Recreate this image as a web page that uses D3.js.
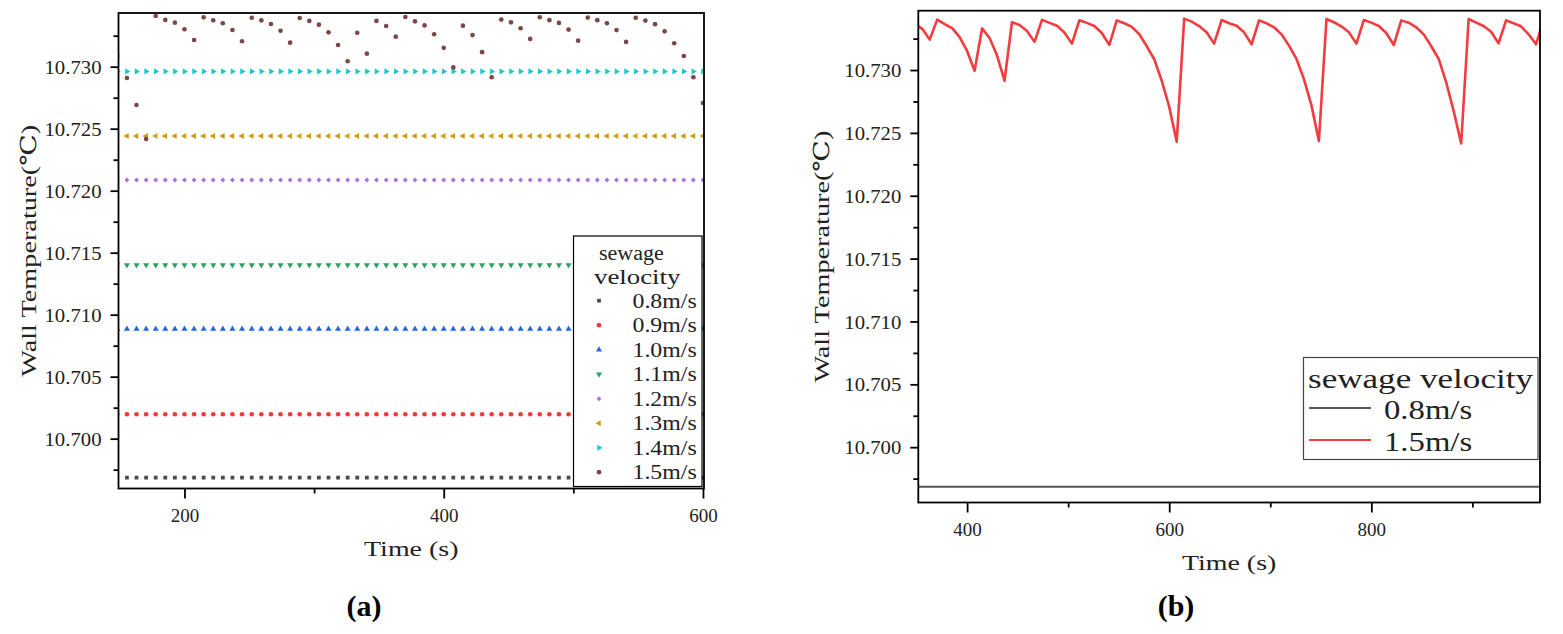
<!DOCTYPE html>
<html lang="en">
<head>
<meta charset="UTF-8">
<title>Wall Temperature vs Time</title>
<script src="https://d3js.org/d3.v7.min.js"></script>
<style>
  body { margin: 0; background: #fff; }
  svg { display: block; font-family: "Liberation Serif", "DejaVu Serif", serif; }
  .domain { display: none; }
</style>
</head>
<body>
<svg id="fig" width="1563" height="634"></svg>
<script>
// sample times (s)
const times = [148.1, 155.6, 163.0, 170.4, 177.8, 185.2, 192.6, 200.0, 207.4, 214.8,
  222.2, 229.6, 237.0, 244.4, 251.9, 259.3, 266.7, 274.1, 281.5, 288.9,
  296.3, 303.7, 311.1, 318.5, 325.9, 333.3, 340.7, 348.1, 355.6, 363.0,
  370.4, 377.8, 385.2, 392.6, 400.0, 407.4, 414.8, 422.2, 429.6, 437.0,
  444.4, 451.9, 459.3, 466.7, 474.1, 481.5, 488.9, 496.3, 503.7, 511.1,
  518.5, 525.9, 533.3, 540.7, 548.1, 555.6, 563.0, 570.4, 577.8, 585.2,
  592.6, 600.0, 607.4, 614.8, 622.2, 629.6, 637.0, 644.4, 651.9, 659.3,
  666.7, 674.1, 681.5, 688.9, 696.3, 703.7, 711.1, 718.5, 725.9, 733.3,
  740.7, 748.1, 755.6, 763.0, 770.4, 777.8, 785.2, 792.6, 800.0, 807.4,
  814.8, 822.2, 829.6, 837.0, 844.4, 851.9, 859.3, 866.7, 874.1, 881.5,
  888.9, 896.3, 903.7, 911.1, 918.5, 925.9, 933.3, 940.7, 948.1, 955.6,
  963.0, 970.4];

// wall temperature at 1.5 m/s
const wall15 = [10.73086, 10.72909, 10.72691, 10.72417, 10.73409, 10.73377, 10.73355, 10.73302, 10.73215, 10.73398,
  10.73374, 10.73350, 10.73296, 10.73205, 10.73395, 10.73374, 10.73344, 10.73290, 10.73194, 10.73393,
  10.73369, 10.73339, 10.73277, 10.73175, 10.73044, 10.73274, 10.73105, 10.73369, 10.73328, 10.73242,
  10.73401, 10.73366, 10.73333, 10.73262, 10.73152, 10.72994, 10.73331, 10.73255, 10.73117, 10.72915,
  10.73380, 10.73358, 10.73310, 10.73224, 10.73399, 10.73375, 10.73353, 10.73299, 10.73210, 10.73396,
  10.73375, 10.73350, 10.73295, 10.73200, 10.73395, 10.73372, 10.73343, 10.73285, 10.73189, 10.73086,
  10.72915, 10.72707, 10.72429, 10.73409, 10.73385, 10.73350, 10.73300, 10.73210, 10.73398, 10.73372,
  10.73353, 10.73300, 10.73205, 10.73395, 10.73372, 10.73340, 10.73284, 10.73194, 10.73088, 10.72928,
  10.72721, 10.72435, 10.73406, 10.73380, 10.73348, 10.73300, 10.73210, 10.73398, 10.73377, 10.73350,
  10.73295, 10.73199, 10.73395, 10.73377, 10.73340, 10.73284, 10.73189, 10.73088, 10.72902, 10.72673,
  10.72416, 10.73406, 10.73377, 10.73350, 10.73305, 10.73213, 10.73395, 10.73372, 10.73348, 10.73284,
  10.73205, 10.73400];

// flat wall temperature for 0.8 .. 1.4 m/s
const flatLevels = [10.69685, 10.70197, 10.70885, 10.71401, 10.72086, 10.72441, 10.72962];

const velocities = ["0.8m/s", "0.9m/s", "1.0m/s", "1.1m/s", "1.2m/s", "1.3m/s", "1.4m/s", "1.5m/s"];
const colors = ["#4a4a4a", "#f0393b", "#2467e0", "#2ca25f", "#a772e0", "#d09a08", "#19c9cf", "#7a4646"];
const shapes = ["square", "circle", "up", "down", "diamond", "left", "right", "circle"];

const yMajor = [10.700, 10.705, 10.710, 10.715, 10.720, 10.725, 10.730];
const yMinor = [10.6975, 10.7025, 10.7075, 10.7125, 10.7175, 10.7225, 10.7275, 10.7325];
const xMajorA = [200, 400, 600], xMinorA = [300, 500];
const xMajorB = [400, 600, 800], xMinorB = [500, 700, 900];

const yTitle = "Wall Temperature(℃)";
const xTitle = "Time (s)";
const legendTitle = "sewage velocity";

const svg = d3.select("#fig");

// emulate the half-width / full-width spacing of the original font
function monoFit(sel, unit) {
  sel.each(function () {
    let n = 0;
    for (const c of this.textContent) n += c.charCodeAt(0) > 0x2000 ? 2 : 1;
    d3.select(this).attr("textLength", n * unit).attr("lengthAdjust", "spacingAndGlyphs");
  });
}

function symbolPath(shape) {
  const sq = d3.symbol().type(d3.symbolSquare).size(14)();
  const ci = d3.symbol().type(d3.symbolCircle).size(17)();
  const tr = d3.symbol().type(d3.symbolTriangle).size(16)();
  const di = d3.symbol().type(d3.symbolSquare).size(12)();
  return {
    square: [sq, 0], circle: [ci, 0], up: [tr, 0], down: [tr, 180],
    diamond: [di, 45], left: [tr, -90], right: [tr, 90]
  }[shape];
}

function drawMarker(g, shape, color, cx, cy) {
  const [d, rot] = symbolPath(shape);
  g.append("path").attr("d", d).attr("fill", color)
    .attr("transform", `translate(${cx},${cy}) rotate(${rot})`);
}

function makePanel(box, xDom, yDom, xMaj, xMin, tag) {
  const x = d3.scaleLinear().domain(xDom).range([box.left, box.right]);
  const y = d3.scaleLinear().domain(yDom).range([box.bottom, box.top]);

  svg.append("clipPath").attr("id", "clip-" + tag).append("rect")
    .attr("x", box.left).attr("y", box.top)
    .attr("width", box.right - box.left).attr("height", box.bottom - box.top);
  const plot = svg.append("g").attr("clip-path", `url(#clip-${tag})`);

  const ax = svg.append("g");
  const gx = ax.append("g").attr("transform", `translate(0,${box.bottom})`)
    .call(d3.axisBottom(x).tickValues(xMaj).tickSize(10).tickFormat(d3.format("d")));
  ax.append("g").attr("transform", `translate(0,${box.bottom})`)
    .call(d3.axisBottom(x).tickValues(xMin).tickSize(5).tickFormat(""));
  const gy = ax.append("g").attr("transform", `translate(${box.left},0)`)
    .call(d3.axisLeft(y).tickValues(yMajor).tickSize(8).tickFormat(d3.format(".3f")));
  ax.append("g").attr("transform", `translate(${box.left},0)`)
    .call(d3.axisLeft(y).tickValues(yMinor).tickSize(5).tickFormat(""));

  ax.selectAll(".tick line").attr("stroke", "#000").attr("stroke-width", 1.8);
  gx.selectAll("text").attr("y", 27).attr("dy", "0.35em")
    .attr("font-family", "Liberation Serif").attr("font-size", 19).attr("fill", "#222")
    .call(monoFit, 9.5);
  gy.selectAll("text").attr("x", -17).attr("dy", "0.35em")
    .attr("font-family", "Liberation Serif").attr("font-size", 19).attr("fill", "#222")
    .call(monoFit, 9.5);

  return { x, y, plot, box };
}

function drawFrame(p) {
  const b = p.box;
  svg.append("rect").attr("x", b.left).attr("y", b.top)
    .attr("width", b.right - b.left).attr("height", b.bottom - b.top)
    .attr("fill", "none").attr("stroke", "#000").attr("stroke-width", 1.8);
}

function titles(p, yx, xy) {
  const b = p.box;
  svg.append("text").attr("transform", `translate(${yx},${(b.top + b.bottom) / 2}) rotate(-90)`)
    .attr("text-anchor", "middle").attr("dy", "0.35em").attr("font-size", 22).attr("fill", "#222")
    .text(yTitle).call(monoFit, 12.6);
  svg.append("text").attr("x", (b.left + b.right) / 2).attr("y", xy)
    .attr("text-anchor", "middle").attr("dy", "0.35em").attr("font-size", 22).attr("fill", "#222")
    .text(xTitle).call(monoFit, 11.8);
}

// ---- panel (a): scatter of all velocities ----
const pa = makePanel({ left: 118.5, right: 704, top: 13, bottom: 488.5 },
  [149.1, 600.8], [10.69598, 10.73433], xMajorA, xMinorA, "a");

flatLevels.forEach((v, i) => {
  times.forEach(t => {
    if (t < 140 || t > 610) return;
    drawMarker(pa.plot, shapes[i], colors[i], pa.x(t), pa.y(v));
  });
});
times.forEach((t, k) => {
  if (t < 140 || t > 610) return;
  drawMarker(pa.plot, shapes[7], colors[7], pa.x(t), pa.y(wall15[k]));
});
drawFrame(pa);
titles(pa, 28, 548);

// legend (a)
const la = svg.append("g");
la.append("rect").attr("x", 573.5).attr("y", 236).attr("width", 128.5).attr("height", 250.5)
  .attr("fill", "#fff").attr("stroke", "#000").attr("stroke-width", 1.2);
la.append("text").attr("x", 599).attr("y", 253).attr("dy", "0.35em").attr("font-size", 20)
  .attr("fill", "#222").text("sewage").call(monoFit, 10.8);
la.append("text").attr("x", 594).attr("y", 277).attr("dy", "0.35em").attr("font-size", 20)
  .attr("fill", "#222").text("velocity").call(monoFit, 10.8);
velocities.forEach((name, i) => {
  const yy = 300.7 + i * 24.5;
  drawMarker(la, shapes[i], colors[i], 599, yy);
  la.append("text").attr("x", 632.5).attr("y", yy).attr("dy", "0.35em").attr("font-size", 20)
    .attr("fill", "#222").text(name).call(monoFit, 10.7);
});

// ---- panel (b): lines for 0.8 and 1.5 m/s ----
const pb = makePanel({ left: 918.3, right: 1540, top: 10.7, bottom: 502.5 },
  [351.7, 966.9], [10.6956, 10.73472], xMajorB, xMinorB, "b");

pb.plot.append("line")
  .attr("x1", pb.x(times[0])).attr("x2", pb.x(times[times.length - 1]))
  .attr("y1", pb.y(flatLevels[0])).attr("y2", pb.y(flatLevels[0]))
  .attr("stroke", "#555").attr("stroke-width", 2);
const line = d3.line().x((d, k) => pb.x(times[k])).y(d => pb.y(d));
pb.plot.append("path").datum(wall15).attr("d", line)
  .attr("fill", "none").attr("stroke", "#f23c40").attr("stroke-width", 2.6)
  .attr("stroke-linejoin", "round");
drawFrame(pb);
titles(pb, 821, 562);

// legend (b)
const lb = svg.append("g");
lb.append("rect").attr("x", 1303.5).attr("y", 357.5).attr("width", 234.5).attr("height", 102)
  .attr("fill", "#fff").attr("stroke", "#444").attr("stroke-width", 1.2);
lb.append("text").attr("x", 1308).attr("y", 378).attr("dy", "0.35em").attr("font-size", 28)
  .attr("fill", "#222").text(legendTitle).call(monoFit, 15);
[[velocities[0], "#555", 409], [velocities[7], "#f23c40", 441]].forEach(([name, c, yy]) => {
  lb.append("line").attr("x1", 1309).attr("x2", 1371).attr("y1", yy - 1).attr("y2", yy - 1)
    .attr("stroke", c).attr("stroke-width", 2.2);
  lb.append("text").attr("x", 1384).attr("y", yy).attr("dy", "0.35em").attr("font-size", 28)
    .attr("fill", "#222").text(name).call(monoFit, 14.7);
});

// panel tags
svg.append("text").attr("x", 364).attr("y", 605).attr("dy", "0.35em").attr("text-anchor", "middle")
  .attr("font-size", 30).attr("font-weight", "bold").text("(a)");
svg.append("text").attr("x", 1176).attr("y", 605).attr("dy", "0.35em").attr("text-anchor", "middle")
  .attr("font-size", 30).attr("font-weight", "bold").text("(b)");
</script>
</body>
</html>
